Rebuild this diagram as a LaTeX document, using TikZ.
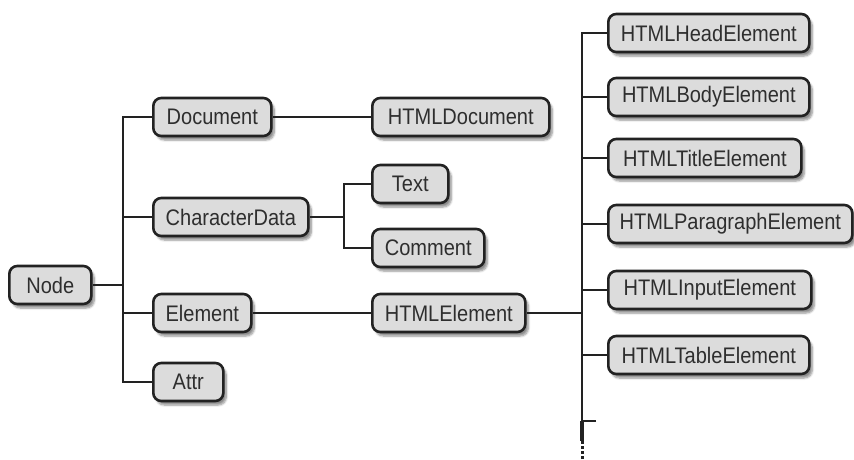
\documentclass[tikz,border=0pt]{standalone}
\usepackage{fontspec}
\setmainfont{Liberation Sans}[FakeStretch=0.89]
\usetikzlibrary{shadows.blur}
\definecolor{boxfill}{HTML}{DCDCDC}
\definecolor{boxline}{HTML}{222222}
\definecolor{txt}{HTML}{2E2E2E}
\begin{document}
\begin{tikzpicture}[x=1pt,y=-1pt,
  box/.style={rounded corners=8pt, draw=boxline, line width=2.6pt, fill=boxfill,
    minimum height=38pt, inner sep=0pt, anchor=west, text=txt,
    font=\fontsize{22.5}{25}\selectfont,
    blur shadow={shadow xshift=3pt, shadow yshift=-4pt, shadow blur steps=6, shadow opacity=45}},
  conn/.style={draw=boxline, line width=2.5pt}]
\useasboundingbox (0,0) rectangle (854,459);
% level 0
\node[box, minimum width=82pt] (Node) at (8,285) {Node};
% level 1
\node[box, minimum width=118pt] (Document) at (152,117) {Document};
\node[box, minimum width=155pt] (CharacterData) at (152,217) {CharacterData};
\node[box, minimum width=98pt] (Element) at (152,313) {Element};
\node[box, minimum width=70pt] (Attr) at (152,382) {Attr};
% level 2
\node[box, minimum width=177pt] (HTMLDocument) at (371,117) {HTMLDocument};
\node[box, minimum width=76pt] (Text) at (371,184) {Text};
\node[box, minimum width=112pt] (Comment) at (371,248) {Comment};
\node[box, minimum width=153pt] (HTMLElement) at (371,313) {HTMLElement};
% level 3
\node[box, minimum width=201pt] (Head) at (607,33) {HTMLHeadElement};
\node[box, minimum width=201pt] (Body) at (607,97) {HTMLBodyElement};
\node[box, minimum width=193pt] (Title) at (607,158) {HTMLTitleElement};
\node[box, minimum width=244pt] (Para) at (607,224) {HTMLParagraphElement};
\node[box, minimum width=203pt] (Input) at (607,290) {HTMLInputElement};
\node[box, minimum width=201pt] (Table) at (607,355) {HTMLTableElement};
% junctions
\coordinate (j1) at (123,285);
\coordinate (j2) at (344,217);
\coordinate (j3) at (582,313);
\coordinate (stub) at (596,421);
\coordinate (tend) at (582,441);
\coordinate (dend) at (582,459);
% connectors from Node
\draw[conn] (Node.east) -- (j1);
\draw[conn] (Document.west) -| (j1) |- (Attr.west);
\draw[conn] (CharacterData.west) -- (CharacterData.west -| j1);
\draw[conn] (Element.west) -- (Element.west -| j1);
\draw[conn] (Document.east) -- (HTMLDocument.west);
\draw[conn] (Element.east) -- (HTMLElement.west);
% CharacterData branch
\draw[conn] (CharacterData.east) -- (j2);
\draw[conn] (Text.west) -| (j2) |- (Comment.west);
% HTMLElement branch
\draw[conn] (HTMLElement.east) -- (j3);
\draw[conn] (Head.west) -| (j3) -- (tend);
\draw[conn] (Body.west) -- (Body.west -| j3);
\draw[conn] (Title.west) -- (Title.west -| j3);
\draw[conn] (Para.west) -- (Para.west -| j3);
\draw[conn] (Input.west) -- (Input.west -| j3);
\draw[conn] (Table.west) -- (Table.west -| j3);
\draw[conn] (stub) -- (stub -| j3);
\draw[draw=boxline, line width=3.5pt] (stub -| j3) -- (tend);
\draw[draw=boxline, line width=3pt, dash pattern=on 2.5pt off 2.5pt] (tend) -- (dend);
\end{tikzpicture}
\end{document}
